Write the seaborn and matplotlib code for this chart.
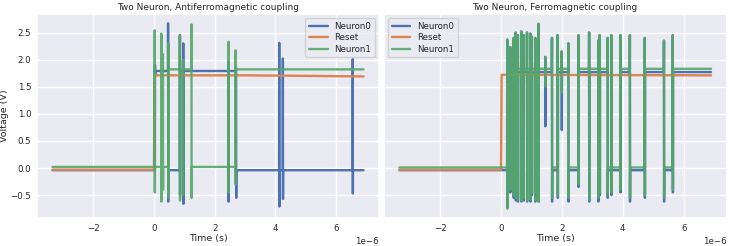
import numpy as np
import matplotlib
matplotlib.use("Agg")
import matplotlib.pyplot as plt
import pandas as pd
import seaborn as sns

# time in microseconds, voltage in V
t_start, t_end = -3.34, 6.90

# --- Antiferromagnetic coupling (left) ---
af_reset_t = [-3.34, 0.00, 0.02, 3.00, 6.90]
af_reset_v = [-0.03, -0.03, 1.71, 1.71, 1.69]

af_n0_low, af_n0_high = -0.04, 1.79
af_n0_t = [0.03, 0.46, 0.85, 0.96, 2.45, 2.70, 4.12, 4.24, 6.54]
af_n0_hi = [1.90, 2.67, 2.45, 2.30, 1.95, 1.85, 2.31, 2.02, 2.01]
af_n0_lo = [1.70, -0.62, -0.50, -0.66, -0.62, -0.55, -0.71, -0.57, -0.47]
af_n0_state = ["H", "L", "H", "H", "H", "L", "L", "L", "L"]

af_n1_low, af_n1_high = 0.02, 1.82
af_n1_t = [0.02, 0.24, 0.29, 0.47, 0.85, 0.95, 1.23, 2.45, 2.68]
af_n1_hi = [2.54, 2.48, 2.10, 2.30, 2.45, 2.00, 2.65, 2.33, 2.17]
af_n1_lo = [-0.45, -0.62, -0.40, -0.55, -0.60, -0.50, -0.55, -0.45, -0.30]
af_n1_state = ["L", "L", "L", "H", "H", "H", "L", "L", "H"]

# --- Ferromagnetic coupling (right) ---
fm_reset_t = [-3.34, 0.00, 0.02, 6.90]
fm_reset_v = [-0.03, -0.03, 1.72, 1.71]

fm_t = [0.20, 0.30, 0.41, 0.48, 0.55, 0.66, 0.74, 0.85, 0.96, 1.01, 1.12, 1.23, 1.45, 1.67,
        1.86, 1.99, 2.21, 2.54, 2.89, 3.19, 3.24, 3.50, 3.62, 3.92, 4.23, 4.72, 5.35, 5.64]
fm_state = ["L", "L", "H", "L", "H", "H", "H", "H", "H", "H", "H", "H", "H", "L",
            "H", "H", "L", "H", "H", "L", "H", "L", "L", "H", "L", "H", "L", "H"]
fm_hi = [2.37, 2.23, 2.40, 2.50, 2.45, 2.52, 2.45, 2.50, 2.48, 2.42, 2.40, 2.66, 2.05, 2.40,
         2.45, 2.15, 2.30, 2.45, 2.50, 2.35, 2.45, 2.40, 2.45, 2.45, 2.45, 2.40, 2.35, 2.45]
fm_n1_lo = [-0.75, -0.40, -0.50, -0.55, -0.58, -0.60, -0.55, -0.60, -0.58, -0.45, -0.60, -0.62, 1.50, -0.55,
            -0.50, 1.40, -0.55, -0.30, -0.58, -0.55, -0.45, -0.50, -0.45, -0.40, -0.55, -0.50, -0.55, -0.40]
fm_n0_lo = [-0.72, -0.45, -0.55, -0.60, -0.62, -0.62, -0.60, -0.62, -0.62, -0.50, -0.62, -0.62, 0.77, -0.62,
            -0.55, 0.70, -0.62, -0.35, -0.62, -0.62, -0.50, -0.55, -0.50, -0.45, -0.62, -0.55, -0.62, -0.45]
fm_n0_low, fm_n0_high = -0.04, 1.77
fm_n1_low, fm_n1_high = 0.01, 1.83


def trace(times, his, los, states, low, high):
    # piecewise trace: flat levels with a spike at each switching event
    lev = {"L": low, "H": high}
    t = [t_start]
    v = [low]
    cur = low
    for te, hi, lo, st in zip(times, his, los, states):
        t += [te, te + 0.004, te + 0.008, te + 0.012]
        v += [cur, hi, lo, lev[st]]
        cur = lev[st]
    t.append(t_end)
    v.append(cur)
    return np.array(t) * 1e-6, np.array(v)


sns.set_theme(style="darkgrid")
plt.rcParams["font.family"] = ["DejaVu Sans"]
color = sns.color_palette()

fig = plt.figure(figsize=(7.31, 2.46), dpi=100)
ax1 = fig.add_axes([0.0506, 0.114, 0.468, 0.829])
ax2 = fig.add_axes([0.525, 0.114, 0.469, 0.829])
ax2.sharey(ax1)

panels = [
    (ax1, "Two Neuron, Antiferromagnetic coupling",
     trace(af_n0_t, af_n0_hi, af_n0_lo, af_n0_state, af_n0_low, af_n0_high),
     (np.array(af_reset_t) * 1e-6, np.array(af_reset_v)),
     trace(af_n1_t, af_n1_hi, af_n1_lo, af_n1_state, af_n1_low, af_n1_high),
     "upper right"),
    (ax2, "Two Neuron, Ferromagnetic coupling",
     trace(fm_t, fm_hi, fm_n0_lo, fm_state, fm_n0_low, fm_n0_high),
     (np.array(fm_reset_t) * 1e-6, np.array(fm_reset_v)),
     trace(fm_t, fm_hi, fm_n1_lo, fm_state, fm_n1_low, fm_n1_high),
     "upper left"),
]

for ax, title, n0, rs, n1, loc in panels:
    sns.lineplot(x=n0[0], y=n0[1], ax=ax, color=color[0], lw=1.7, label="Neuron0",
                 sort=False, estimator=None)
    sns.lineplot(x=rs[0], y=rs[1], ax=ax, color=color[1], lw=1.7, label="Reset",
                 sort=False, estimator=None)
    sns.lineplot(x=n1[0], y=n1[1], ax=ax, color=color[2], lw=1.7, label="Neuron1",
                 sort=False, estimator=None, alpha=0.9)
    ax.set_title(title, fontsize=6.5, pad=3)
    ax.set_xlabel("Time (s)", fontsize=6.8, labelpad=1)
    ax.tick_params(labelsize=6.2, length=0, pad=4)
    ax.xaxis.get_offset_text().set_fontsize(6.2)
    ax.legend(loc=loc, fontsize=6.2, handlelength=2.2, borderpad=0.4, labelspacing=0.3)

ax1.set_ylabel("Voltage (V)", fontsize=6.8)
ax1.yaxis.set_label_coords(-0.083, 0.5)
ax2.set_ylabel("")
ax2.tick_params(labelleft=False)

fig.savefig("out.png", dpi=100)
